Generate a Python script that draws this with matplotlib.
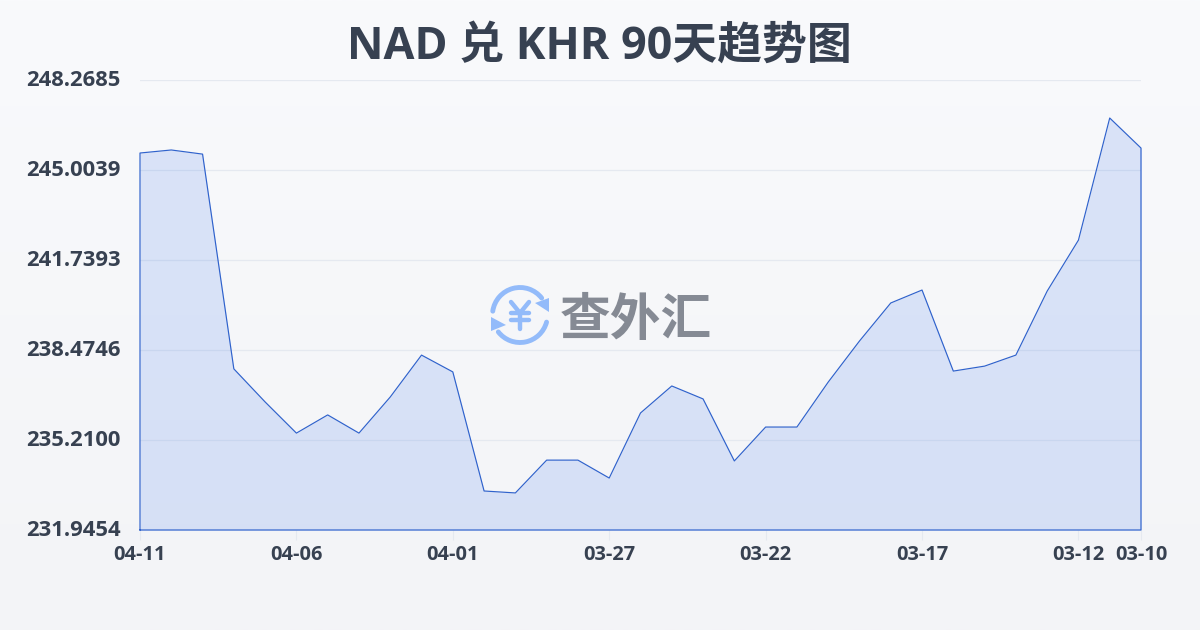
"""NAD/KHR 90-day trend chart with the watermark logo."""

import matplotlib
matplotlib.use("Agg")
import matplotlib.pyplot as plt
import numpy as np
from matplotlib.patches import Arc, Polygon
from matplotlib.transforms import ScaledTranslation

plt.rcParams["font.family"] = ["Open Sans", "Noto Sans CJK SC", "DejaVu Sans"]

TITLE = "NAD 兑 KHR 90天趋势图"
WATERMARK = "查外汇"

# newest day first, as drawn left to right
RATES = [
    245.62, 245.73, 245.58, 237.79, 236.59, 235.46, 236.12, 235.46, 236.77,
    238.29, 237.68, 233.36, 233.29, 234.48, 234.48, 233.83, 236.19, 237.17,
    236.70, 234.45, 235.68, 235.68, 237.31, 238.80, 240.18, 240.65, 237.71,
    237.89, 238.29, 240.61, 242.46, 246.89, 245.80,
]
DATE_POS = [0, 5, 10, 15, 20, 25, 30, 32]
DATE_LABELS = ["04-11", "04-06", "04-01", "03-27", "03-22", "03-17", "03-12", "03-10"]
Y_TICKS = [231.9454, 235.2100, 238.4746, 241.7393, 245.0039, 248.2685]

TEXT_COLOR = "#374151"
GRID_COLOR = "#e5e9f0"
LINE_COLOR = "#2f62cc"
FILL_COLOR = "#2563eb"
LOGO_BLUE = "#93bbfa"
LOGO_GRAY = "#858a94"
W, H = 1200, 630

fig = plt.figure(figsize=(12, 6.3), dpi=100)

# page background, light vertical gradient
bg = fig.add_axes([0, 0, 1, 1], zorder=0)
bg.imshow(
    np.linspace(0, 1, 256).reshape(-1, 1),
    aspect="auto",
    cmap=matplotlib.colors.LinearSegmentedColormap.from_list("page", ["#f9fafc", "#f3f4f7"]),
    extent=(0, W, H, 0),
)
bg.set_xlim(0, W)
bg.set_ylim(H, 0)
bg.axis("off")

ax = fig.add_axes([140 / W, 1 - 530 / H, 1001 / W, 450 / H], zorder=1)
ax.patch.set_alpha(0)
x = np.arange(len(RATES))
ax.set_xlim(0, len(RATES) - 1)
ax.set_ylim(Y_TICKS[0], Y_TICKS[-1])

ax.yaxis.grid(True, color=GRID_COLOR, linewidth=0.9, zorder=1)
ax.set_axisbelow(True)
ax.set_yticks(Y_TICKS)
ax.set_yticklabels([f"{v:.4f}" for v in Y_TICKS], fontsize=15.8, fontweight="bold", color=TEXT_COLOR)
ax.tick_params(axis="y", length=0, pad=14)
# labels sit a touch above their grid lines
nudge = ScaledTranslation(0, 1.3 / 72, fig.dpi_scale_trans)
for t in ax.get_yticklabels():
    t.set_transform(t.get_transform() + nudge)
ax.set_xticks(DATE_POS)
ax.set_xticklabels(DATE_LABELS, fontsize=14.4, fontweight="bold", color=TEXT_COLOR)
ax.tick_params(axis="x", length=7.5, width=0.8, color=GRID_COLOR, pad=3.2)
for s in ax.spines.values():
    s.set_visible(False)

# the area outline runs round the whole shape, baseline included
ax.fill_between(x, RATES, Y_TICKS[0], color=FILL_COLOR, alpha=0.14, linewidth=0, zorder=2)
ax.plot(
    np.r_[x[0], x, x[-1], x[0]],
    np.r_[Y_TICKS[0], RATES, Y_TICKS[0], Y_TICKS[0]],
    color=LINE_COLOR, linewidth=0.85, clip_on=False, zorder=3,
)

fig.text(599 / W, 1 - 47 / H, TITLE, fontsize=32.3, fontweight="bold", color=TEXT_COLOR,
         ha="center", va="center")

# watermark logo, in pixel space on a top overlay
top = fig.add_axes([0, 0, 1, 1], zorder=2)
top.patch.set_alpha(0)
top.set_xlim(0, W)
top.set_ylim(H, 0)
top.axis("off")
top.add_patch(Arc((520, 315), 55, 55, theta1=188, theta2=322, color=LOGO_BLUE, lw=3.5, capstyle="round"))
top.add_patch(Arc((520, 315), 55, 55, theta1=15, theta2=142, color=LOGO_BLUE, lw=3.5, capstyle="round"))
top.add_patch(Polygon([(549, 298), (549, 312), (535, 303)], closed=True, color=LOGO_BLUE, lw=0))
top.add_patch(Polygon([(491, 317), (506, 325), (491, 331)], closed=True, color=LOGO_BLUE, lw=0))
# yen sign of the icon, drawn as rounded strokes
for xs, ys in [([511, 520, 529], [302, 313, 302]), ([520, 520], [313, 329]),
               ([511, 529], [313, 313]), ([511, 529], [320, 320])]:
    top.plot(xs, ys, color=LOGO_BLUE, lw=3.2, solid_capstyle="round", solid_joinstyle="round")
top.text(636, 320, WATERMARK, fontsize=36.5, fontweight="bold", color=LOGO_GRAY, ha="center", va="center",
         family=["Noto Sans CJK SC"])

fig.savefig("out.png", dpi=100)
